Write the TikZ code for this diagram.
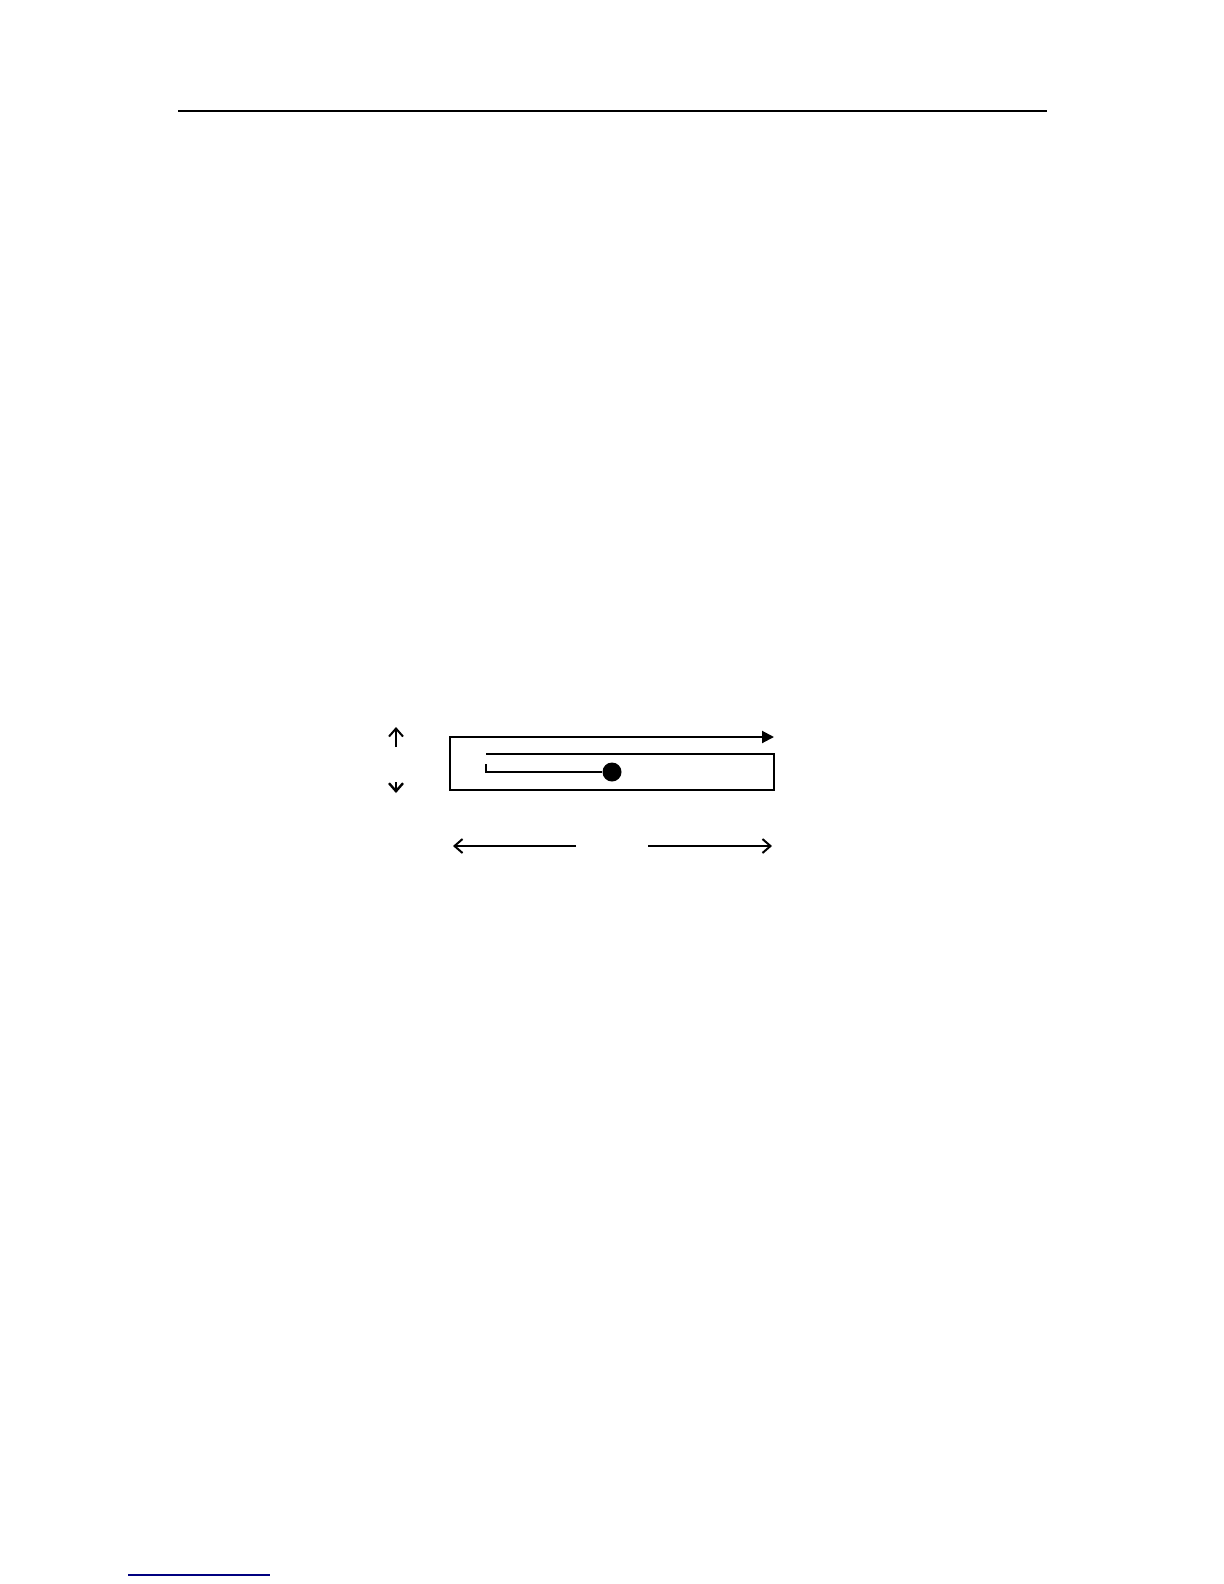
\documentclass[tikz,border=0pt]{standalone}
\usetikzlibrary{arrows.meta}
\definecolor{fussblau}{RGB}{0,0,128}

\begin{document}
\begin{tikzpicture}[x=0.5pt,y=-0.5pt,line width=1pt,>={Straight Barb[length=4pt,width=7pt]}]
  \useasboundingbox (0,0) rectangle (1224,1584);
  % Kopf- und Fusslinie
  \draw[line width=.7pt] (178,111)--(1047,111);
  \draw[line width=.7pt,fussblau] (128,1575)--(270,1575);
  % Pfeile links
  \draw[->] (396,747)--(396,727);
  \draw[->,line width=1.2pt] (396,782)--(396,793);
  % Rahmen mit Pfeil
  \coordinate (ein) at (486,754);
  \coordinate (aus) at (774,737);
  \draw[-{Triangle[length=6pt,width=6pt]}] (ein) -| (774,790) -| (450,737) -- (aus);
  % Stab und Kugel
  \coordinate (stab) at (486,764);
  \node[circle,fill,inner sep=0pt,minimum size=9.5pt] (kugel) at (612,772) {};
  \draw (stab) |- (kugel);
  % Bewegungsrichtung
  \coordinate (links) at (453,846);
  \coordinate (rechts) at (772,846);
  \draw[->] (576,846)--(links);
  \draw[->] (648,846)--(rechts);
\end{tikzpicture}
\end{document}
